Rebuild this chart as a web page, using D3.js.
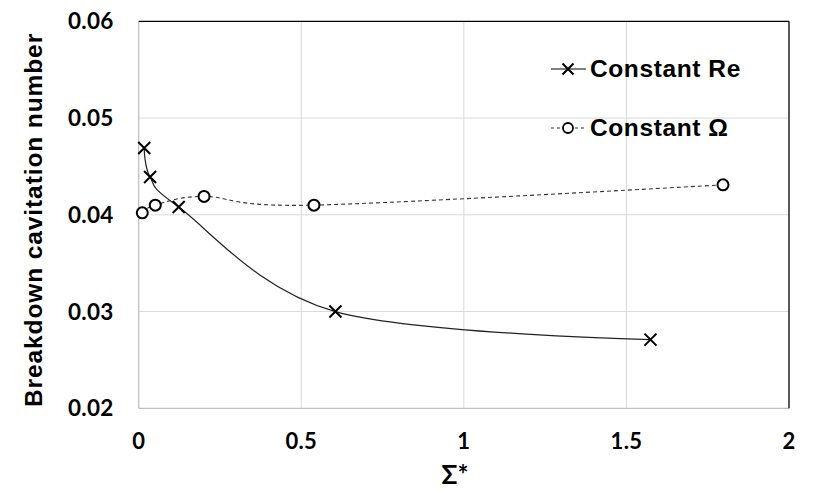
<!DOCTYPE html>
<html><head><meta charset="utf-8">
<script src="https://cdn.jsdelivr.net/npm/d3@7"></script>
<style>body{margin:0;background:#fff}svg{display:block}</style>
</head><body>
<script>
const reX = [0.017, 0.035, 0.123, 0.605, 1.574];
const reY = [0.0469, 0.0439, 0.0408, 0.0300, 0.0271];
const omX = [0.011, 0.051, 0.201, 0.539, 1.797];
const omY = [0.0402, 0.0410, 0.0419, 0.0410, 0.0431];
const xTicks = [0, 0.5, 1, 1.5, 2];
const xTickLabels = ["0", "0.5", "1", "1.5", "2"];
const yTicks = [0.02, 0.03, 0.04, 0.05, 0.06];
const yTickLabels = ["0.02", "0.03", "0.04", "0.05", "0.06"];
const seriesNames = ["Constant Re", "Constant \u03A9"];
const xTitle = "\u03A3*";
const yTitle = "Breakdown cavitation number";

const W = 814, H = 492;
const L = 138.7, R = 789, T = 21.3, B = 408.3;
const svg = d3.select("body").append("svg").attr("width", W).attr("height", H);
const x = d3.scaleLinear().domain([0, 2]).range([L, R]);
const y = d3.scaleLinear().domain([0.02, 0.06]).range([B, T]);

// gridlines
const g = svg.append("g");
g.selectAll(".vx").data(xTicks.slice(1, -1)).join("line")
  .attr("x1", d => x(d)).attr("x2", d => x(d)).attr("y1", T).attr("y2", B)
  .attr("stroke", "#d9d9d9").attr("stroke-width", 1);
g.selectAll(".hy").data(yTicks.slice(1, -1)).join("line")
  .attr("x1", L).attr("x2", R).attr("y1", d => y(d)).attr("y2", d => y(d))
  .attr("stroke", "#d9d9d9").attr("stroke-width", 1);
// frame
svg.append("line").attr("x1", L).attr("x2", L).attr("y1", T).attr("y2", B).attr("stroke", "#bfbfbf").attr("stroke-width", 1.3);
svg.append("line").attr("x1", L).attr("x2", R).attr("y1", B).attr("y2", B).attr("stroke", "#bfbfbf").attr("stroke-width", 1.3);
svg.append("line").attr("x1", L).attr("x2", R).attr("y1", T).attr("y2", T).attr("stroke", "#000").attr("stroke-width", 1.3);
svg.append("line").attr("x1", R).attr("x2", R).attr("y1", T).attr("y2", B).attr("stroke", "#000").attr("stroke-width", 1.3);

// tick labels
const tickFont = "Lato, 'Open Sans', sans-serif";
svg.selectAll(".yt").data(yTicks).join("text")
  .attr("x", L - 25).attr("y", d => y(d)).attr("dy", "0.36em")
  .attr("text-anchor", "end").attr("font-family", tickFont).attr("font-weight", "bold")
  .attr("font-size", 22.5).attr("letter-spacing", 0.3).text((d, i) => yTickLabels[i]);
svg.selectAll(".xt").data(xTicks).join("text")
  .attr("x", d => x(d)).attr("y", 441.5).attr("dy", "0.36em")
  .attr("text-anchor", "middle").attr("font-family", tickFont).attr("font-weight", "bold")
  .attr("font-size", 22).attr("letter-spacing", 0.3).text((d, i) => xTickLabels[i]);

// titles
svg.append("text").attr("x", 455).attr("y", 484).attr("text-anchor", "middle")
  .attr("font-family", "Lato, sans-serif").attr("font-weight", "bold").attr("font-size", 26).text(xTitle);
svg.append("text").attr("transform", "translate(42,220) rotate(-90)").attr("text-anchor", "middle")
  .attr("font-family", "'Liberation Sans', Arial, sans-serif").attr("font-weight", "bold")
  .attr("font-size", 24.5).attr("letter-spacing", 0.9).text(yTitle);

// lines
const line = d3.line().x(d => x(d[0])).y(d => y(d[1])).curve(d3.curveCardinal.tension(0));
const reData = reX.map((v, i) => [v, reY[i]]);
const omData = omX.map((v, i) => [v, omY[i]]);
svg.append("path").attr("d", line(reData)).attr("fill", "none").attr("stroke", "#222").attr("stroke-width", 1.2);
svg.append("path").attr("d", line(omData)).attr("fill", "none").attr("stroke", "#333").attr("stroke-width", 1.1).attr("stroke-dasharray", "4,3");

function cross(sel, cx, cy, s) {
  sel.append("path").attr("d", `M${cx - s},${cy - s}L${cx + s},${cy + s}M${cx - s},${cy + s}L${cx + s},${cy - s}`)
    .attr("stroke", "#000").attr("stroke-width", 2).attr("fill", "none");
}
reData.forEach(d => cross(svg, x(d[0]), y(d[1]), 6));
svg.selectAll(".om").data(omData).join("circle")
  .attr("cx", d => x(d[0])).attr("cy", d => y(d[1])).attr("r", 5.5)
  .attr("fill", "#fff").attr("stroke", "#000").attr("stroke-width", 2);

// legend
const legFont = "'Liberation Sans', Arial, sans-serif";
svg.append("line").attr("x1", 551).attr("x2", 586).attr("y1", 69).attr("y2", 69).attr("stroke", "#000").attr("stroke-width", 1.2);
cross(svg, 568, 69, 5.5);
svg.append("text").attr("x", 590).attr("y", 77).attr("font-family", legFont).attr("font-weight", "bold")
  .attr("font-size", 24.5).attr("letter-spacing", 0.6).text(seriesNames[0]);
svg.append("line").attr("x1", 551).attr("x2", 584).attr("y1", 128).attr("y2", 128).attr("stroke", "#333").attr("stroke-width", 1.1).attr("stroke-dasharray", "3,3");
svg.append("circle").attr("cx", 568).attr("cy", 128).attr("r", 5).attr("fill", "#fff").attr("stroke", "#000").attr("stroke-width", 1.8);
svg.append("text").attr("x", 590).attr("y", 136).attr("font-family", legFont).attr("font-weight", "bold")
  .attr("font-size", 24.5).attr("letter-spacing", 0.6).text(seriesNames[1]);
</script>
</body></html>
